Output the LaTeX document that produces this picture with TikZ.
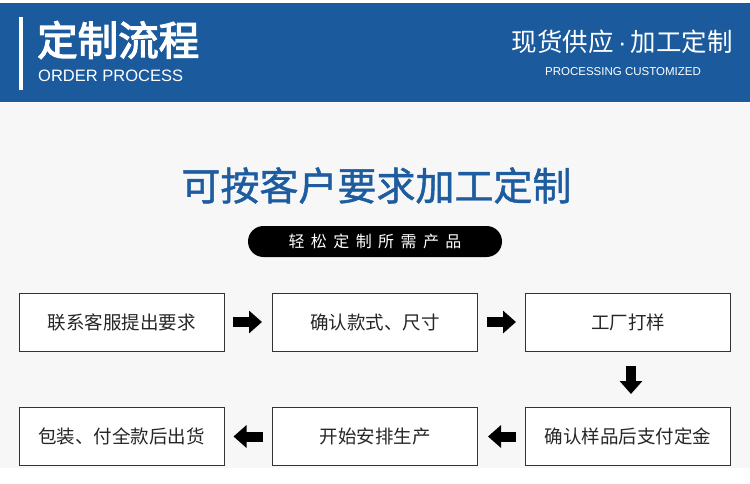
\documentclass[tikz,border=0pt]{standalone}
\usepackage{fontspec}
\setmainfont{Liberation Sans}
\newfontfamily\cjk{Noto Sans CJK SC}
\newfontfamily\cjkbold{Noto Sans CJK SC}[FakeBold=3]
\newfontfamily\cjkmid{Noto Sans CJK SC}[FakeBold=1.2]
\newfontfamily\cjkwide{Noto Sans CJK SC}[LetterSpace=40]
\usepgflibrary{arrows.meta}
\definecolor{headblue}{RGB}{26,90,157}
\definecolor{titleblue}{RGB}{30,92,160}
\definecolor{pagebg}{RGB}{247,247,247}
\tikzset{
  stepbox/.style={draw=black!80, line width=1pt, fill=white, minimum width=205pt,
    minimum height=58pt, inner sep=0pt, font=\cjk\fontsize{18.5}{18.5}\selectfont, text=black!85},
  flow/.style={line width=10pt, -{Triangle[width=22pt,length=13pt]}}
}

\begin{document}
\begin{tikzpicture}[x=1pt,y=-1pt]
    \useasboundingbox (0,0) rectangle (750,484);
    \fill[white] (0,0) rectangle (750,484);
    \fill[pagebg] (0,103) rectangle (750,468);
    \fill[headblue] (0,3) rectangle (750,102);
    \fill[white] (19,17) rectangle (23,90);
    \node[anchor=west, inner sep=0pt, text=white, font=\cjkbold\fontsize{40.5}{40.5}\selectfont] (head) at (37,40) {定制流程};
    \node[anchor=west, inner sep=0pt, text=white, font=\fontsize{16.5}{16.5}\selectfont] (headen) at (38,75.5) {ORDER PROCESS};
    \node[anchor=east, inner sep=0pt, text=white, font=\fontsize{25.5}{25.5}\selectfont] (slogan) at (733,41.5) {{\cjk 现货供应}\,·\,{\cjk 加工定制}};
    \node[inner sep=0pt, text=white, font=\fontsize{11.5}{11.5}\selectfont] (sloganen) at (623,72) {PROCESSING CUSTOMIZED};
    \node[inner sep=0pt, text=titleblue, font=\cjkmid\fontsize{39}{39}\selectfont] (title) at (376.5,185.5) {可按客户要求加工定制};
    \node[fill=black, rounded corners=15.5pt, minimum width=254pt, minimum height=31pt, inner sep=0pt,
      text=white, font=\cjkwide\fontsize{16}{16}\selectfont] (pill) at (375,241.5) {轻松定制所需产品\hspace{-6.4pt}};
    \foreach \name/\x/\y/\txt in {a/121.5/322/联系客服提出要求, b/375/322/确认款式、尺寸, c/628/322/工厂打样,
      d/628/436.5/确认样品后支付定金, e/375/436.5/开始安排生产, f/121.5/436.5/包装、付全款后出货}{
    \node[stepbox] (\name) at (\x,\y) {\txt};
    }
    \draw[flow, shorten <=8pt, shorten >=10pt] (a) -- (b);
    \draw[flow, shorten <=9pt, shorten >=9pt] (b) -- (c);
    \draw[flow, shorten <=14pt, shorten >=13pt] ([xshift=3pt]c.south) -- ([xshift=3pt]d.north);
    \draw[flow, shorten <=9pt, shorten >=10pt] (d) -- (e);
    \draw[flow, shorten <=9pt, shorten >=9pt] (e) -- (f);
\end{tikzpicture}
\end{document}
